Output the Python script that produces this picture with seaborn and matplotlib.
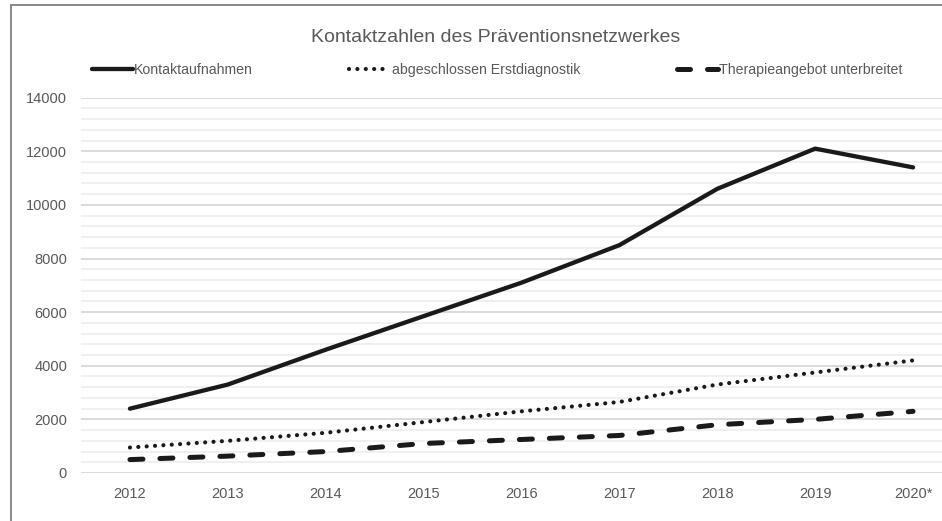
import matplotlib
matplotlib.use("Agg")
import matplotlib.pyplot as plt
from matplotlib.lines import Line2D
from matplotlib.ticker import MultipleLocator
import seaborn as sns
import pandas as pd

years = ["2012", "2013", "2014", "2015", "2016", "2017", "2018", "2019", "2020*"]
kontakt = [2400, 3300, 4600, 5850, 7100, 8500, 10600, 12100, 11400]
erstdiag = [950, 1200, 1500, 1900, 2300, 2650, 3300, 3750, 4200]
therapie = [500, 630, 800, 1100, 1250, 1400, 1800, 2000, 2300]
series_names = ["Kontaktaufnahmen", "abgeschlossen Erstdiagnostik", "Therapieangebot unterbreitet"]
title = "Kontaktzahlen des Präventionsnetzwerkes"

sns.set_theme(style="white")
plt.rcParams["font.family"] = ["Liberation Sans", "DejaVu Sans"]

txt = "#595959"
line_c = "#1a1a1a"

df = pd.DataFrame({"Jahr": years * 3,
                   "Wert": kontakt + erstdiag + therapie,
                   "Serie": [series_names[0]] * 9 + [series_names[1]] * 9 + [series_names[2]] * 9})
df["xi"] = [i for i in range(len(years))] * 3

fig = plt.figure(figsize=(9.42, 5.21), dpi=100)
ax = fig.add_axes([81 / 942, 48 / 521, 881 / 942, 375.3 / 521])

styles = {
    series_names[0]: dict(lw=3.1, ls="-", cap="round"),
    series_names[1]: dict(lw=3.0, ls=(0, (0.01, 2.0)), cap="round"),
    series_names[2]: dict(lw=3.6, ls=(0, (2.6, 3.4)), cap="round"),
}

handles = []
for name in series_names:
    sub = df[df["Serie"] == name]
    st = styles[name]
    sns.lineplot(data=sub, x="xi", y="Wert", ax=ax, color=line_c, lw=st["lw"],
                 sort=False, legend=False)
    ln = ax.lines[-1]
    ln.set_linestyle(st["ls"])
    ln.set_dash_capstyle(st["cap"])
    ln.set_solid_capstyle("round")
    ln.set_solid_joinstyle("round")
    h = Line2D([0], [0], color=line_c, lw=st["lw"], ls=st["ls"])
    h.set_dash_capstyle(st["cap"])
    handles.append(h)

ax.set_xlim(-0.5, 8.5)
ax.set_ylim(0, 14000)
ax.set_xticks(range(len(years)))
ax.set_xticklabels(years)
ax.yaxis.set_major_locator(MultipleLocator(2000))
ax.yaxis.set_minor_locator(MultipleLocator(400))
ax.grid(which="major", axis="y", color="#d9d9d9", lw=1.3, zorder=0)
ax.grid(which="minor", axis="y", color="#efefef", lw=1.3, zorder=0)
ax.grid(which="major", axis="x", visible=False)
ax.set_axisbelow(True)
for s in ax.spines.values():
    s.set_visible(False)
ax.tick_params(axis="both", which="both", length=0, labelsize=10.5, labelcolor=txt)
ax.tick_params(axis="x", pad=10)
ax.tick_params(axis="y", pad=10)
ax.set_xlabel("")
ax.set_ylabel("")

fig.text(0.526, 1 - 37 / 521, title, ha="center", va="center", fontsize=14, color=txt)

leg = fig.legend(handles, series_names, loc="center", bbox_to_anchor=(497 / 942, 1 - 70 / 521),
                 ncol=3, frameon=False, fontsize=10.2, handlelength=2.9, handletextpad=0.1,
                 columnspacing=6.8, labelcolor=txt)

fig.add_artist(Line2D([11 / 942, 11 / 942], [0, 1 - 5 / 521], color="#7f7f7f", lw=1.3,
                      transform=fig.transFigure))
fig.add_artist(Line2D([11 / 942, 1], [1 - 5 / 521, 1 - 5 / 521], color="#7f7f7f", lw=1.3,
                      transform=fig.transFigure))

fig.savefig("out.png", dpi=100, facecolor="white")
